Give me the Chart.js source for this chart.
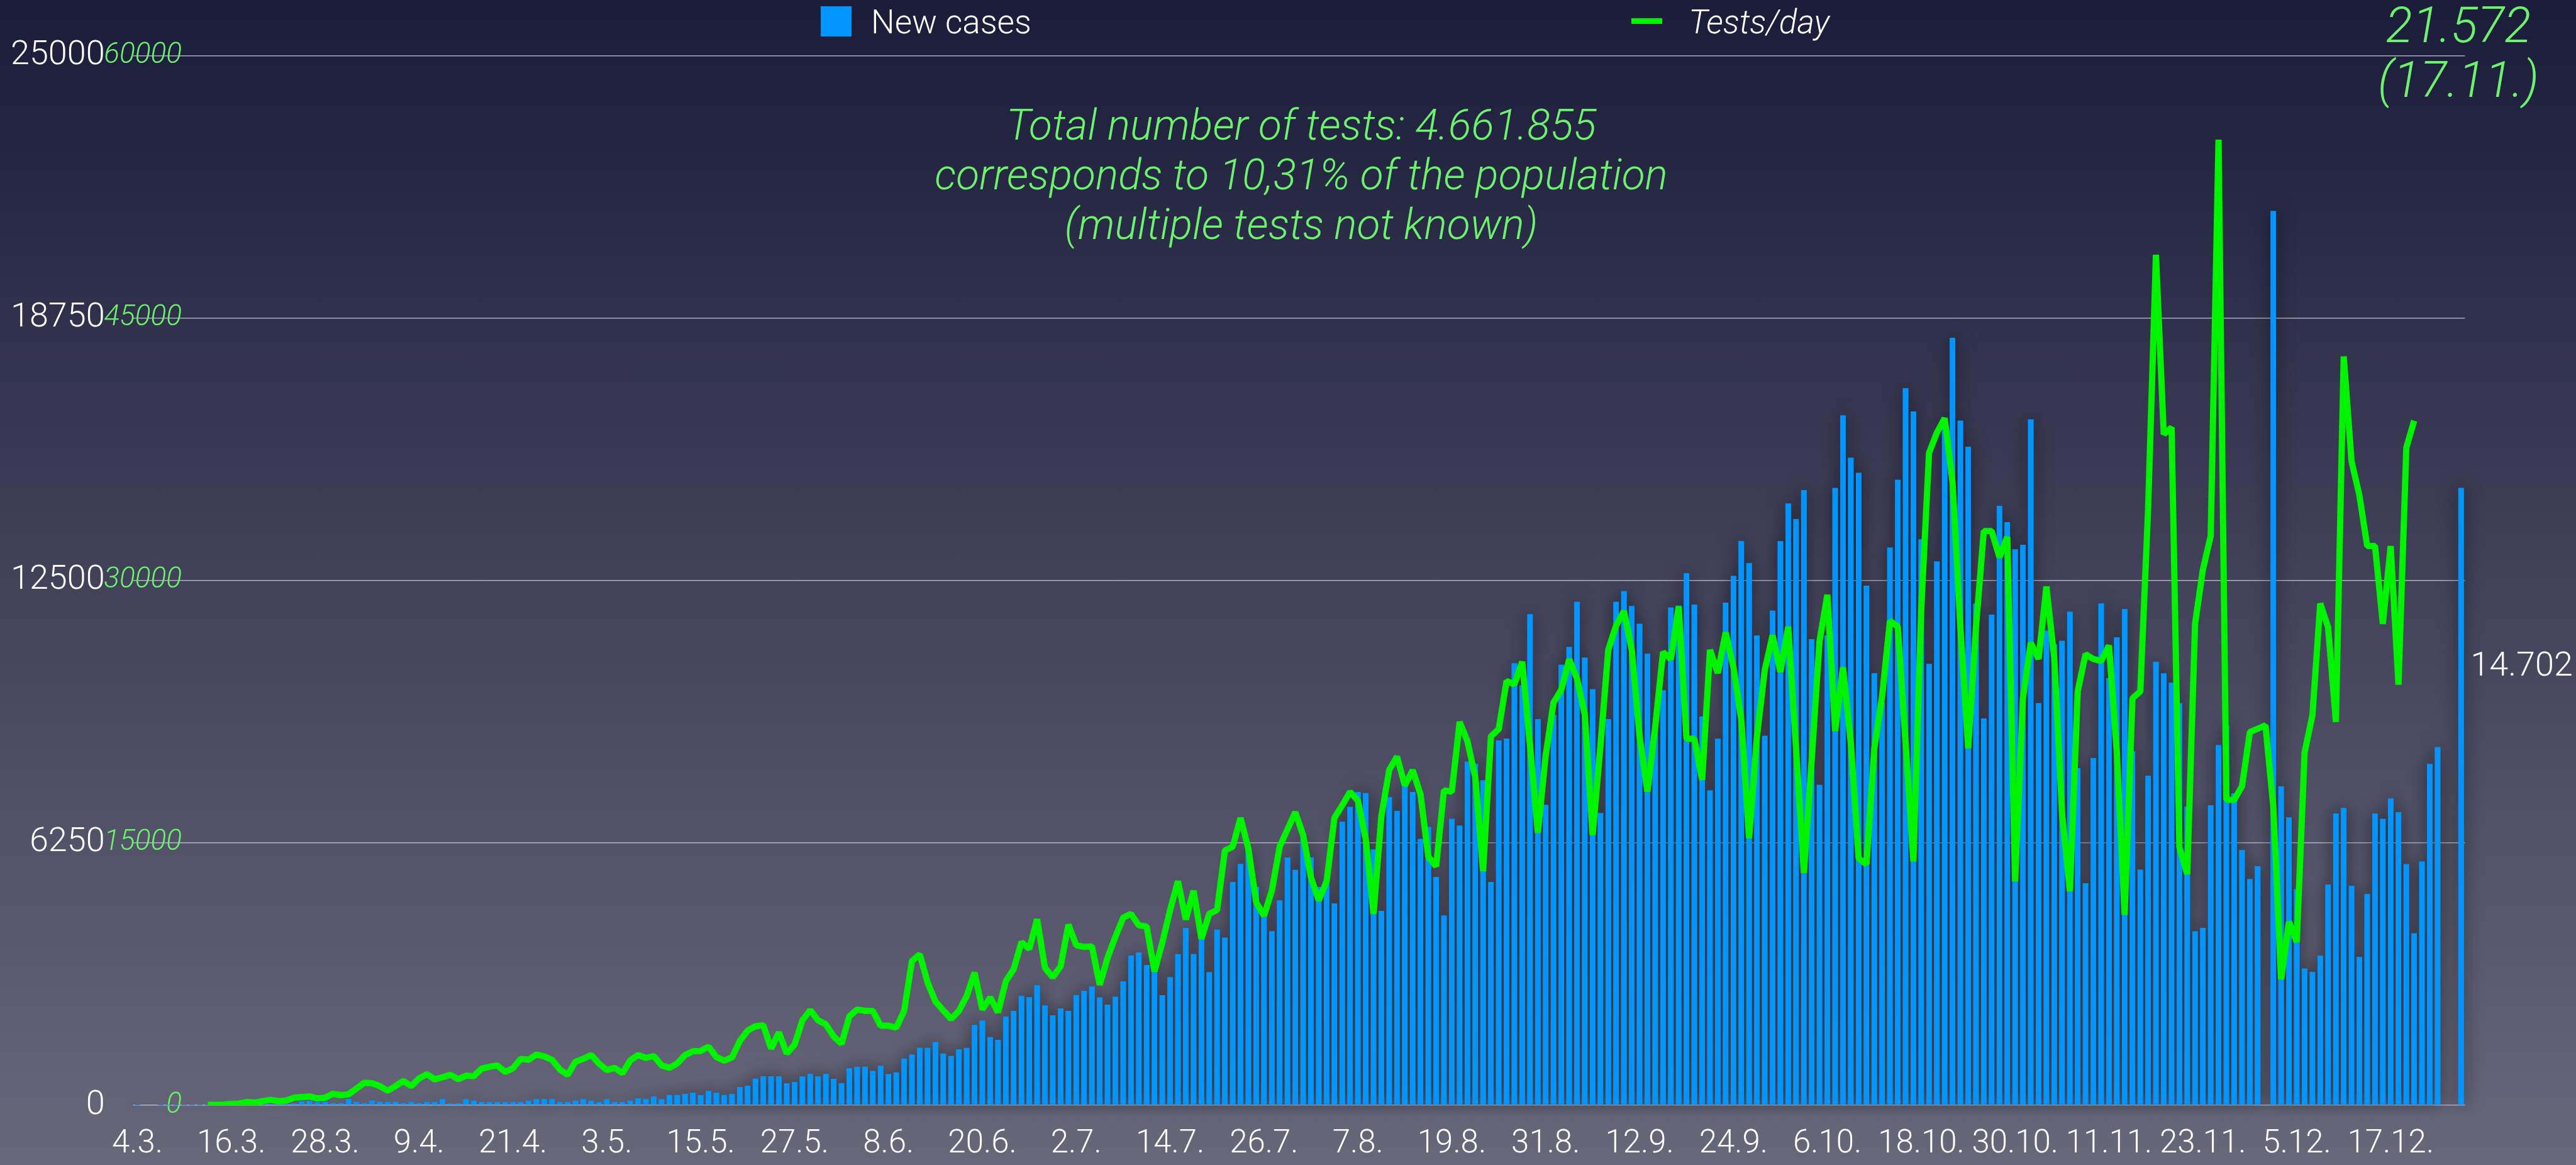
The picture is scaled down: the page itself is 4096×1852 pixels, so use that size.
<!DOCTYPE html>
<html>
<head>
<meta charset="utf-8">
<script src="https://cdn.jsdelivr.net/npm/chart.js@4/dist/chart.umd.min.js"></script>
<style>
  html, body { margin: 0; padding: 0; }
  body {
    width: 4096px; height: 1852px; overflow: hidden;
    background: linear-gradient(to bottom, #1b1c3a 0%, #68677a 100%);
  }
  #wrap { position: relative; width: 4096px; height: 1852px; }
</style>
</head>
<body>
<div id="wrap"><canvas id="chart"></canvas></div>
<script>
// one value per day, starting 4.3.
const newCases = [
    1, 0, 0, 1, 2, 1, 2, 3, 2, 3,
    9, 3, 11, 9, 11, 21, 17, 31, 30, 34,
    41, 89, 101, 69, 77, 49, 49, 150, 77, 49,
    110, 77, 77, 77, 49, 77, 49, 77, 77, 147,
    45, 45, 143, 107, 72, 72, 72, 72, 72, 72,
    107, 143, 143, 143, 72, 72, 107, 143, 107, 72,
    143, 72, 72, 107, 166, 143, 206, 143, 242, 242,
    268, 300, 242, 340, 300, 242, 268, 434, 465, 632,
    690, 690, 687, 526, 552, 687, 744, 687, 744, 629,
    526, 879, 918, 918, 815, 937, 744, 783, 1110, 1206,
    1367, 1367, 1502, 1232, 1174, 1328, 1367, 1912, 2015, 1623,
    1559, 2111, 2246, 2599, 2573, 2856, 2374, 2143, 2304, 2246,
    2627, 2725, 2823, 2567, 2393, 2585, 2951, 3563, 3636, 3343,
    3407, 2622, 3051, 3599, 4220, 3599, 4300, 3170, 4184, 3992,
    5317, 5746, 6111, 5200, 4700, 4147, 4878, 5901, 5609, 6340,
    5901, 5198, 5353, 4805, 6751, 7107, 7463, 7436, 6093, 4631,
    7340, 7012, 7636, 7464, 6341, 6627, 5435, 4518, 6822, 6662,
    8187, 8129, 7740, 5320, 8691, 8737, 10526, 10000, 11695, 9196,
    7155, 9299, 10491, 10916, 11993, 10663, 9907, 6960, 9196, 11993,
    12246, 11890, 11466, 10755, 9035, 9884, 11856, 11902, 12670, 11924,
    9260, 7500, 8732, 11974, 12609, 13436, 12912, 11188, 8801, 11781,
    13436, 14333, 13960, 14650, 11105, 7629, 11188, 14705, 16429, 15423,
    15064, 12374, 10291, 9600, 13284, 14899, 17078, 16526, 13478, 10512,
    12953, 16292, 18278, 16306, 15685, 11946, 9215, 11684, 14278, 13891,
    13241, 13352, 16336, 9579, 11304, 10982, 11062, 11756, 8031, 5289,
    8273, 11949, 10175, 11143, 11820, 8434, 5612, 7853, 10563, 10288,
    10063, 9579, 7112, 4144, 4225, 7144, 8579, 9047, 7434, 6080,
    5386, 5693, null, 21300, 7595, 6854, 5144, 3257, 3177, 3564,
    5257, 6950, 7079, 5225, 3532, 5031, 6950, 6821, 7305, 6983,
    5741, 4096, 5805, 8128, 8531, null, null, 14702
];

const testsPerDay = [
    null, null, null, null, null, null, null, null, null, 30,
    20, 40, 70, 90, 185, 146, 230, 312, 234, 263,
    429, 470, 507, 390, 429, 653, 575, 624, 950, 1287,
    1258, 1092, 829, 1100, 1385, 1092, 1531, 1775, 1482, 1599,
    1745, 1490, 1686, 1665, 2094, 2202, 2277, 1900, 2116, 2653,
    2599, 2900, 2792, 2599, 2041, 1740, 2492, 2653, 2868, 2384,
    2008, 2137, 1826, 2567, 2868, 2706, 2814, 2277, 2137, 2384,
    2868, 3082, 3104, 3351, 2760, 2545, 2739, 3673, 4264, 4515,
    4580, 3236, 4161, 2959, 3467, 4854, 5440, 4854, 4623, 3930,
    3513, 5085, 5471, 5394, 5394, 4546, 4546, 4438, 5394, 8244,
    8630, 7012, 5933, 5424, 4931, 5394, 6241, 7582, 5471, 6164,
    5316, 7089, 7782, 9323, 8938, 10633, 7859, 7320, 7936, 10325,
    9150, 9050, 9079, 6886, 8421, 9627, 10724, 10943, 10285, 10219,
    7654, 9298, 11162, 12807, 10614, 12259, 9518, 10943, 11162, 14562,
    14781, 16426, 14671, 11601, 10833, 12259, 14781, 15768, 16755, 15439,
    13026, 11711, 12807, 16426, 17149, 17917, 17412, 15219, 10943, 16535,
    19167, 19930, 18280, 19161, 17784, 14205, 13655, 18005, 17922, 21914,
    20813, 18748, 13380, 21088, 21501, 24254, 24061, 25355, 20537, 15582,
    19987, 23015, 23758, 25493, 24392, 22327, 15444, 20537, 26043, 27420,
    28246, 26043, 21088, 17922, 21639, 25906, 25493, 28521, 20950, 20950,
    18600, 26032, 24708, 27026, 25039, 22058, 15268, 21064, 24873, 26860,
    24774, 27357, 20402, 13281, 19740, 26529, 29179, 21396, 25039, 20733,
    14109, 13778, 20402, 23383, 27688, 27357, 20733, 13944, 28351, 37293,
    38452, 39280, 35637, 27357, 20402, 27357, 32822, 32822, 31332, 32490,
    12800, 23265, 26439, 25510, 29652, 25587, 16684, 12232, 23652, 25781,
    25510, 25394, 26284, 20168, 10878, 23265, 23652, 34106, 48620, 38362,
    38749, 14749, 13200, 27523, 30620, 32555, 55200, 17458, 17458, 18232,
    21329, 21523, 21716, 17071, 7200, 10490, 9329, 20168, 22297, 28684,
    27330, 21910, 42813, 36813, 34878, 31974, 31974, 27523, 31974, 24039,
    37588, 39136, null, null, null, null, null, null
];

// a label under every 12th day
const xTickLabels = ['4.3.', '16.3.', '28.3.', '9.4.', '21.4.', '3.5.', '15.5.', '27.5.',
    '8.6.', '20.6.', '2.7.', '14.7.', '26.7.', '7.8.', '19.8.', '31.8.', '12.9.',
    '24.9.', '6.10.', '18.10.', '30.10.', '11.11.', '23.11.', '5.12.', '17.12.'];
const casesTicks = [0, 6250, 12500, 18750, 25000];
const testsTicks = [0, 15000, 30000, 45000, 60000];
const noteLines = ['Total number of tests: 4.661.855',
    'corresponds to 10,31% of the population',
    '(multiple tests not known)'];

// day categories
const days = [];
const start = Date.UTC(2020, 2, 4);
for (let i = 0; i < newCases.length; i++) {
    const d = new Date(start + i * 86400000);
    days.push(d.getUTCDate() + '.' + (d.getUTCMonth() + 1) + '.');
}

const GREEN_TXT = '#6cf26c';
const FONT = 'Roboto';

const extras = {
    id: 'extras',
    beforeDatasetDraw(chart, args) {
        // soft shadow behind the whole bar group
        if (args.meta.type !== 'bar') return;
        const ctx = chart.ctx;
        ctx.save();
        ctx.shadowColor = 'rgba(0,0,0,0.6)';
        ctx.shadowBlur = 28;
        args.meta.controller.draw();
        ctx.restore();
    },
    afterDraw(chart) {
        const ctx = chart.ctx;
        const area = chart.chartArea;
        ctx.save();

        // legend
        ctx.fillStyle = '#0095ff';
        ctx.fillRect(1305, 10, 49, 48);
        ctx.fillStyle = '#ffffff';
        ctx.textBaseline = 'alphabetic';
        ctx.textAlign = 'left';
        ctx.font = '300 53px ' + FONT;
        ctx.fillText('New cases', 1385, 53);
        ctx.fillStyle = '#00f400';
        ctx.fillRect(2594, 29, 49, 9);
        ctx.fillStyle = '#ffffff';
        ctx.font = 'italic 300 53px ' + FONT;
        ctx.fillText('Tests/day', 2685, 53);

        // note in the middle
        ctx.fillStyle = GREEN_TXT;
        ctx.textAlign = 'center';
        ctx.font = 'italic 300 68px ' + FONT;
        noteLines.forEach((t, i) => ctx.fillText(t, 2069, 222 + i * 79));

        // top right note
        ctx.font = 'italic 300 79px ' + FONT;
        ctx.fillText('21.572', 3909, 67);
        ctx.fillText('(17.11.)', 3909, 154);

        // value of the last bar
        const xs = chart.scales.x;
        const lastX = xs.getPixelForValue(newCases.length - 1);
        ctx.fillStyle = '#ffffff';
        ctx.textAlign = 'left';
        ctx.font = '300 54px ' + FONT;
        ctx.fillText('14.702', lastX + 15, area.bottom - 683);

        ctx.restore();
    }
};

new Chart(document.getElementById('chart'), {
    data: {
        labels: days,
        datasets: [
            {
                type: 'bar',
                label: 'New cases',
                data: newCases,
                yAxisID: 'y',
                backgroundColor: '#0095ff',
                borderWidth: 0,
                categoryPercentage: 1.0,
                barPercentage: 0.7,
                order: 1
            },
            {
                type: 'line',
                label: 'Tests/day',
                data: testsPerDay,
                yAxisID: 'y1',
                borderColor: '#00f400',
                borderWidth: 10,
                borderJoinStyle: 'bevel',
                borderCapStyle: 'butt',
                pointRadius: 0,
                tension: 0,
                fill: false,
                order: 0
            }
        ]
    },
    options: {
        responsive: true,
        maintainAspectRatio: false,
        animation: false,
        layout: { padding: { left: 0, right: 176.5, top: 88.6, bottom: 0 } },
        plugins: {
            legend: { display: false },
            tooltip: { enabled: false }
        },
        scales: {
            x: {
                offset: true,
                grid: { display: false, drawTicks: false },
                border: { display: false },
                ticks: {
                    autoSkip: false,
                    maxRotation: 0,
                    minRotation: 0,
                    padding: 32,
                    color: '#ffffff',
                    font: { family: FONT, size: 51, weight: '300' },
                    callback: (v, i) => (i % 12 === 0 ? xTickLabels[i / 12] : '')
                },
                afterFit: (s) => { s.height = 95; }
            },
            y: {
                position: 'left',
                weight: 1,
                min: 0,
                max: 25000,
                afterBuildTicks: (s) => { s.ticks = casesTicks.map(v => ({ value: v })); },
                ticks: {
                    padding: 45.5,
                    color: '#ffffff',
                    font: { family: FONT, size: 54, weight: '300' },
                    callback: (v) => String(v)
                },
                grid: { color: 'rgba(205,205,215,0.8)', lineWidth: 1.6, drawTicks: false },
                border: { display: false },
                afterFit: (s) => { s.width = 212.2; }
            },
            y1: {
                position: 'left',
                weight: 0,
                min: 0,
                max: 60000,
                afterBuildTicks: (s) => { s.ticks = testsTicks.map(v => ({ value: v })); },
                ticks: {
                    mirror: true,
                    crossAlign: 'far',
                    padding: -47,
                    color: GREEN_TXT,
                    font: { family: FONT, size: 46, weight: '300', style: 'italic' },
                    callback: (v) => String(v)
                },
                grid: { display: false, drawTicks: false },
                border: { display: false },
                afterFit: (s) => { s.width = 0; }
            }
        }
    },
    plugins: [extras]
});
</script>
</body>
</html>
